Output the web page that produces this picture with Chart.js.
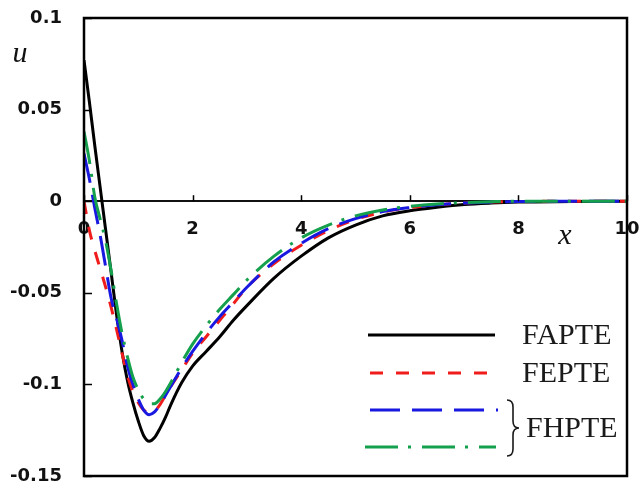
<!DOCTYPE html>
<html>
<head>
<meta charset="utf-8">
<script src="https://cdn.jsdelivr.net/npm/chart.js@4.4.1/dist/chart.umd.min.js"></script>
<style>
  html, body { margin: 0; padding: 0; background: #ffffff; }
  #wrap { width: 640px; height: 492px; }
</style>
</head>
<body>
<div id="wrap"><canvas id="c" width="640" height="492"></canvas></div>
<script>
// Sample positions along x
const xValues = [0, 0.1, 0.2, 0.3, 0.4, 0.5, 0.6, 0.7, 0.8, 0.9, 1.0, 1.1, 1.2, 1.3, 1.4, 1.5, 1.6, 1.8, 2.0, 2.25, 2.5, 2.75, 3.0, 3.5, 4.0, 4.5, 5.0, 5.5, 6.0, 6.5, 7.0, 7.5, 8.0, 9.0, 10.0];

// Velocity u(x) for each model
const fapte = [0.077, 0.054, 0.030, 0.007, -0.016, -0.039, -0.062, -0.082, -0.098, -0.110, -0.120, -0.128, -0.131, -0.129, -0.124, -0.118, -0.111, -0.099, -0.090, -0.082, -0.074, -0.065, -0.057, -0.042, -0.030, -0.020, -0.013, -0.008, -0.0052, -0.0033, -0.0018, -0.001, -0.0005, -0.0001, 0];
const fepte = [0, -0.016, -0.027, -0.037, -0.047, -0.058, -0.070, -0.083, -0.095, -0.104, -0.110, -0.114, -0.1155, -0.1145, -0.111, -0.106, -0.101, -0.092, -0.083, -0.074, -0.065, -0.056, -0.047, -0.034, -0.024, -0.016, -0.010, -0.006, -0.0035, -0.002, -0.001, -0.0005, -0.0002, 0, 0];
const fhpteA = [0.026, 0.012, -0.004, -0.019, -0.036, -0.053, -0.064, -0.076, -0.090, -0.100, -0.108, -0.114, -0.1165, -0.115, -0.111, -0.106, -0.101, -0.091, -0.082, -0.072, -0.063, -0.055, -0.047, -0.033, -0.023, -0.015, -0.0095, -0.0057, -0.0035, -0.002, -0.001, -0.0005, -0.0002, 0, 0];
const fhpteB = [0.038, 0.022, 0.002, -0.010, -0.022, -0.038, -0.056, -0.072, -0.085, -0.096, -0.103, -0.108, -0.1105, -0.1105, -0.108, -0.104, -0.099, -0.088, -0.078, -0.068, -0.059, -0.051, -0.043, -0.030, -0.020, -0.013, -0.008, -0.0048, -0.0028, -0.0015, -0.0008, -0.0003, 0, 0, 0];

const seriesNames = ['FAPTE', 'FEPTE', 'FHPTE', 'FHPTE'];
const xTicks = [0, 2, 4, 6, 8, 10];
const yTicks = [-0.15, -0.1, -0.05, 0, 0.05, 0.1];

const toPoints = (ys) => xValues.map((x, i) => ({ x: x, y: ys[i] }));

const LABEL_FONT = { family: 'DejaVu Sans', size: 18, weight: 'bold' };

// Legend on the lower right, with a brace grouping the two FHPTE curves
const legendPanel = {
  id: 'legendPanel',
  afterDraw(chart) {
    const { ctx } = chart;
    const ds = chart.data.datasets;
    const rows = [
      { y: 335, x1: 368, x2: 495 },
      { y: 373, x1: 370, x2: 493 },
      { y: 410, x1: 370, x2: 498 },
      { y: 447, x1: 365, x2: 496 }
    ];
    ctx.save();
    rows.forEach((r, i) => {
      ctx.save();
      ctx.strokeStyle = ds[i].borderColor;
      ctx.lineWidth = ds[i].borderWidth;
      ctx.setLineDash(ds[i].borderDash || []);
      ctx.beginPath();
      ctx.moveTo(r.x1, r.y);
      ctx.lineTo(r.x2, r.y);
      ctx.stroke();
      ctx.restore();
    });
    ctx.font = '30px "Liberation Serif"';
    ctx.textAlign = 'left';
    ctx.textBaseline = 'middle';
    ctx.fillStyle = '#1a1a1a';
    ctx.fillText(seriesNames[0], 522, 336);
    ctx.fillText(seriesNames[1], 522, 374);
    ctx.fillText(seriesNames[2], 526, 429);

    ctx.strokeStyle = '#1a1a1a';
    ctx.lineWidth = 1.6;
    ctx.setLineDash([]);
    ctx.beginPath();
    ctx.moveTo(507, 400);
    ctx.quadraticCurveTo(513, 400, 513, 407);
    ctx.lineTo(513, 421);
    ctx.quadraticCurveTo(513, 428, 519, 428);
    ctx.quadraticCurveTo(513, 428, 513, 435);
    ctx.lineTo(513, 449);
    ctx.quadraticCurveTo(513, 456, 507, 456);
    ctx.stroke();
    ctx.restore();
  }
};

// Plot frame, inward tick marks and the axis symbols
const framePanel = {
  id: 'framePanel',
  afterDraw(chart) {
    const { ctx, chartArea: a, scales } = chart;
    const xs = scales.x, ys = scales.y;
    ctx.save();
    ctx.setLineDash([]);
    ctx.lineDashOffset = 0;
    ctx.globalAlpha = 1;
    ctx.strokeStyle = '#000000';
    ctx.lineWidth = 2.5;
    ctx.strokeRect(a.left, a.top, a.right - a.left, a.bottom - a.top);

    ctx.lineWidth = 1.5;
    yTicks.forEach(v => {
      const py = Math.round(ys.getPixelForValue(v)) + 0.5;
      ctx.beginPath();
      ctx.moveTo(a.left, py);
      ctx.lineTo(a.left + 8, py);
      ctx.stroke();
    });
    const y0 = ys.getPixelForValue(0);
    xTicks.forEach(v => {
      const px = Math.round(xs.getPixelForValue(v)) + 0.5;
      ctx.beginPath();
      ctx.moveTo(px, y0);
      ctx.lineTo(px, y0 - 6);
      ctx.stroke();
    });

    ctx.fillStyle = '#111';
    ctx.font = 'italic 30px "Liberation Serif"';
    ctx.textAlign = 'center';
    ctx.textBaseline = 'middle';
    ctx.fillText('u', 20, 54);
    ctx.fillText('x', 565, 236);
    ctx.restore();
  }
};

const noOverhang = s => { s.paddingLeft = 0; s.paddingRight = 0; s.paddingTop = 0; s.paddingBottom = 0; };

new Chart(document.getElementById('c'), {
  type: 'line',
  data: {
    datasets: [
      { label: seriesNames[0], data: toPoints(fapte), borderColor: '#000000', borderWidth: 3, borderDash: [], order: 4 },
      { label: seriesNames[1], data: toPoints(fepte), borderColor: '#f01c1c', borderWidth: 3, borderDash: [13, 13], order: 3 },
      { label: seriesNames[2], data: toPoints(fhpteA), borderColor: '#1818e0', borderWidth: 3, borderDash: [30, 12], order: 2 },
      { label: seriesNames[3], data: toPoints(fhpteB), borderColor: '#14a04c', borderWidth: 3, borderDash: [33, 10, 3, 11], order: 1 }
    ]
  },
  options: {
    responsive: false,
    animation: false,
    devicePixelRatio: 1,
    layout: { padding: { left: 0, top: 18, right: 13, bottom: 16 } },
    elements: {
      point: { radius: 0 },
      line: { cubicInterpolationMode: 'monotone', fill: false, borderCapStyle: 'butt' }
    },
    plugins: { legend: { display: false }, tooltip: { enabled: false } },
    scales: {
      x: {
        type: 'linear',
        min: 0, max: 10,
        position: { y: 0 },
        afterBuildTicks: s => { s.ticks = xTicks.map(v => ({ value: v })); },
        afterFit: noOverhang,
        grid: { display: false, drawTicks: false, tickLength: 0 },
        border: { display: true, color: '#111', width: 2 },
        ticks: { autoSkip: false, maxRotation: 0, padding: 17, color: '#111', font: LABEL_FONT }
      },
      y: {
        type: 'linear',
        min: -0.15, max: 0.1,
        position: 'left',
        afterBuildTicks: s => { s.ticks = yTicks.map(v => ({ value: v })); },
        afterFit: s => { noOverhang(s); s.width = 84; },
        grid: { display: false, drawTicks: false, tickLength: 0 },
        border: { display: false },
        ticks: { autoSkip: false, padding: 22, color: '#111', font: LABEL_FONT, callback: v => String(v) }
      }
    }
  },
  plugins: [legendPanel, framePanel]
});
</script>
</body>
</html>
